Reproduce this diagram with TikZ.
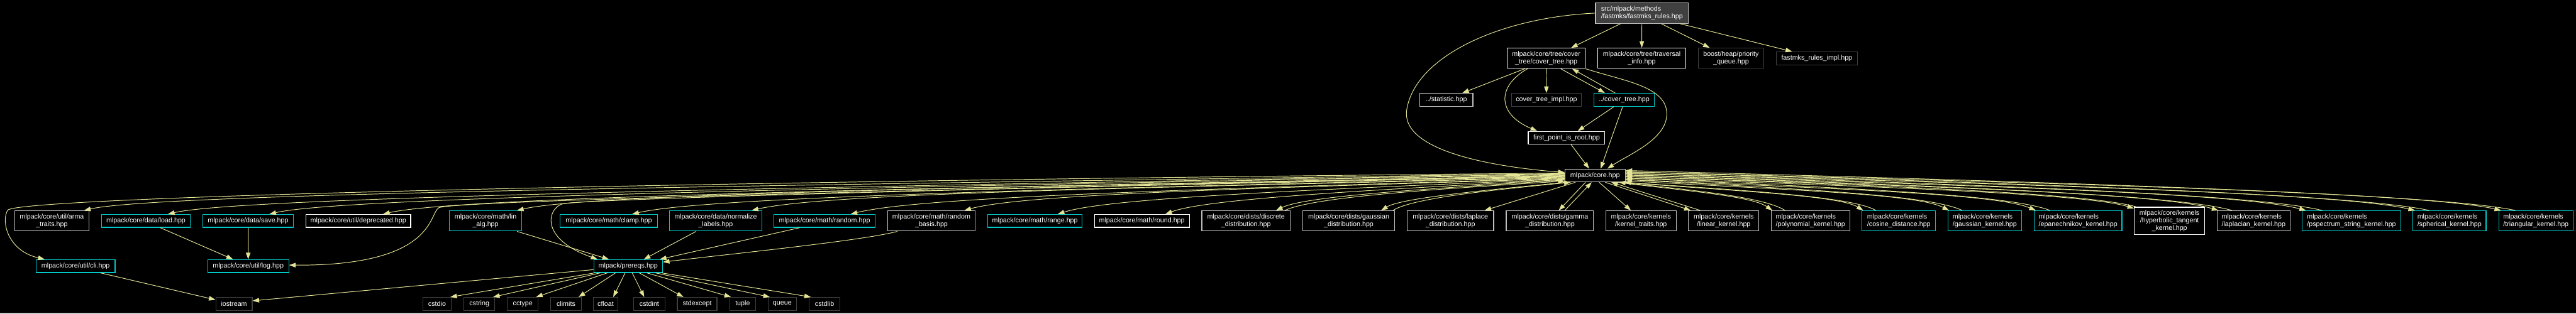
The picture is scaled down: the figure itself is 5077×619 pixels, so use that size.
\documentclass[tikz,border=0pt]{standalone}
\usepackage{fontspec}
\setmainfont{Liberation Sans}
\usetikzlibrary{arrows.meta}
\definecolor{ecol}{RGB}{228,228,150}
\definecolor{ccyan}{RGB}{0,200,200}
\definecolor{clgray}{RGB}{191,191,191}
\definecolor{cdgray}{RGB}{64,64,64}
\definecolor{rootfill}{RGB}{64,64,64}
\begin{document}
\begin{tikzpicture}[x=1pt,y=1pt,
 nd/.style={draw, fill=black, text=white, line width=1.4pt, inner sep=0pt, align=center, font=\fontsize{13.3}{15}\selectfont},
 nw/.style={nd, draw=white},
 nl/.style={nd, draw=clgray},
 nc/.style={nd, draw=ccyan},
 ndk/.style={nd, draw=cdgray},
 one/.style={minimum height=25.5pt},
 two/.style={minimum height=40pt},
 ed/.style={draw=ecol, line width=1.2pt, -{Triangle[length=13pt,width=9pt]}}]
\fill[black] (0,0) rectangle (5077,-619);
\useasboundingbox (0,0) rectangle (5077,-619);
\draw[line width=2pt, color={rgb,255:red,70;green,70;blue,70}] (0,-618) -- (5077,-618);

% top part
\node[nl, fill=rootfill, align=left, minimum width=183pt, minimum height=40.3pt] (root) at (3236,-25.9) {src/mlpack/methods\\/fastmks/fastmks\_rules.hpp};
\node[nw, two, minimum width=154pt] (ct) at (3047.5,-115) {mlpack/core/tree/cover\\\_tree/cover\_tree.hpp};
\node[nw, two, minimum width=173.4pt] (trav) at (3235.7,-115) {mlpack/core/tree/traversal\\\_info.hpp};
\node[ndk, two, minimum width=128.7pt] (prio) at (3411.6,-115) {boost/heap/priority\\\_queue.hpp};
\node[ndk, one, minimum width=159.5pt] (frimpl) at (3580.7,-115.2) {fastmks\_rules\_impl.hpp};
\node[nl, one, minimum width=105pt] (stat) at (2850.4,-197) {../statistic.hpp};
\node[ndk, one, minimum width=138.4pt] (ctimpl) at (3047.8,-197) {cover\_tree\_impl.hpp};
\node[nc, one, minimum width=120pt] (ct2) at (3201,-197) {../cover\_tree.hpp};
\node[nw, one, minimum width=151pt] (fpr) at (3087.5,-272) {first\_point\_is\_root.hpp};
\node[nl, one, minimum width=118.6pt] (core) at (3143.7,-346.3) {mlpack/core.hpp};

% main row
\node[nl, two, minimum width=145.7pt] (arma) at (102.2,-436) {mlpack/core/util/arma\\\_traits.hpp};
\node[nc, one, minimum width=174.6pt] (load) at (287.6,-436) {mlpack/core/data/load.hpp};
\node[nc, one, minimum width=178pt] (save) at (489,-436) {mlpack/core/data/save.hpp};
\node[nw, one, minimum width=206.4pt] (depr) at (706.2,-436) {mlpack/core/util/deprecated.hpp};
\node[nc, two, minimum width=143pt] (linalg) at (957,-436) {mlpack/core/math/lin\\\_alg.hpp};
\node[nc, one, minimum width=191.2pt] (clamp) at (1199.9,-436) {mlpack/core/math/clamp.hpp};
\node[nc, two, minimum width=183pt] (norml) at (1410.5,-436) {mlpack/core/data/normalize\\\_labels.hpp};
\node[nc, one, minimum width=198.6pt] (rand) at (1625,-436) {mlpack/core/math/random.hpp};
\node[nl, two, minimum width=172.6pt] (randb) at (1835.7,-436) {mlpack/core/math/random\\\_basis.hpp};
\node[nc, one, minimum width=186pt] (range) at (2039.8,-436) {mlpack/core/math/range.hpp};
\node[nw, one, minimum width=187pt] (round) at (2250.5,-436) {mlpack/core/math/round.hpp};
\node[nl, two, minimum width=174pt] (disc) at (2455.7,-436) {mlpack/core/dists/discrete\\\_distribution.hpp};
\node[nl, two, minimum width=180.8pt] (gaussd) at (2658.2,-436) {mlpack/core/dists/gaussian\\\_distribution.hpp};
\node[nl, two, minimum width=170.5pt] (lapd) at (2858.5,-436) {mlpack/core/dists/laplace\\\_distribution.hpp};
\node[nl, two, minimum width=172.2pt] (gammad) at (3054.6,-436) {mlpack/core/dists/gamma\\\_distribution.hpp};
\node[nl, two, minimum width=139pt] (ktr) at (3234.2,-436) {mlpack/core/kernels\\/kernel\_traits.hpp};
\node[nl, two, minimum width=138.8pt] (lin) at (3397.2,-436) {mlpack/core/kernels\\/linear\_kernel.hpp};
\node[nl, two, align=left, minimum width=155pt] (poly) at (3568.2,-436) {mlpack/core/kernels\\/polynomial\_kernel.hpp};
\node[nc, two, align=left, minimum width=145.2pt] (cosd) at (3742.4,-436) {mlpack/core/kernels\\/cosine\_distance.hpp};
\node[nc, two, align=left, minimum width=145.4pt] (gaussk) at (3911.7,-436) {mlpack/core/kernels\\/gaussian\_kernel.hpp};
\node[nc, two, align=left, minimum width=173pt] (epan) at (4095.5,-436) {mlpack/core/kernels\\/epanechnikov\_kernel.hpp};
\node[nw, minimum width=138.7pt, minimum height=54pt] (hyper) at (4275.8,-436) {mlpack/core/kernels\\/hyperbolic\_tangent\\\_kernel.hpp};
\node[nl, two, align=left, minimum width=143.5pt] (lapk) at (4441.5,-436) {mlpack/core/kernels\\/laplacian\_kernel.hpp};
\node[nc, two, align=left, minimum width=194.1pt] (pspec) at (4634.5,-436) {mlpack/core/kernels\\/pspectrum\_string\_kernel.hpp};
\node[nc, two, align=left, minimum width=144.5pt] (spher) at (4827.5,-436) {mlpack/core/kernels\\/spherical\_kernel.hpp};
\node[nc, two, align=left, minimum width=146pt] (tri) at (4998,-436) {mlpack/core/kernels\\/triangular\_kernel.hpp};

% second row
\node[nc, one, minimum width=155.6pt] (cli) at (149,-525.2) {mlpack/core/util/cli.hpp};
\node[nc, one, minimum width=159.7pt] (log) at (489.2,-525.2) {mlpack/core/util/log.hpp};
\node[nc, one, minimum width=135.5pt] (prereqs) at (1238,-525.2) {mlpack/prereqs.hpp};

% bottom row
\node[ndk, one, minimum width=71.6pt] (iostream) at (461.2,-599.7) {iostream};
\node[ndk, one, minimum width=56.7pt] (cstdio) at (861.4,-599.7) {cstdio};
\node[ndk, one, minimum width=60.7pt] (cstring) at (944.7,-599.7) {cstring};
\node[ndk, one, minimum width=61pt] (cctype) at (1030.3,-599.7) {cctype};
\node[ndk, one, minimum width=60.2pt] (climits) at (1115.5,-599.7) {climits};
\node[ndk, one, minimum width=47.7pt] (cfloat) at (1193.6,-599.7) {cfloat};
\node[ndk, one, minimum width=61.4pt] (cstdint) at (1279.7,-599.7) {cstdint};
\node[ndk, one, minimum width=78pt] (stdexcept) at (1374,-599.7) {stdexcept};
\node[ndk, one, minimum width=50.6pt] (tuple) at (1463.7,-599.7) {tuple};
\node[ndk, one, minimum width=55.3pt] (queue) at (1541.7,-599.7) {queue};
\node[ndk, one, minimum width=60.4pt] (cstdlib) at (1625.2,-599.7) {cstdlib};

% ---- edges: top
\draw[ed] ([xshift=-42pt]root.south) -- ([xshift=49pt]ct.north);
\draw[ed] (root.south) -- (trav.north);
\draw[ed] ([xshift=38pt]root.south) -- ([xshift=-42pt]prio.north);
\draw[ed] ([xshift=75pt]root.south) -- ([xshift=-48.7pt]frimpl.north);
\draw[ed] (root.west) .. controls (2950,-35) and (2785,-115) .. (2772,-220) .. controls (2765,-300) and (2950,-330) .. ([yshift=6pt]core.west);
\draw[ed] ([xshift=-42.5pt]ct.south) -- ([xshift=31.6pt]stat.north);
\draw[ed] (ct.south) -- (ctimpl.north);
\draw[ed] ([xshift=-37pt]ct.south) .. controls (2950,-170) and (2950,-225) .. ([xshift=-58pt]fpr.north);
\draw[ed] ([xshift=28.5pt]ct.south) -- ([xshift=-38pt]ct2.north);
\draw[ed] ([xshift=-17.5pt]ct2.north) -- ([xshift=51pt]ct.south);
\draw[ed] (ct.south east) .. controls (3200,-160) and (3285,-170) .. (3285,-225) .. controls (3285,-275) and (3210,-305) .. ([xshift=24.3pt]core.north);
\draw[ed] ([xshift=-20pt]ct2.south) -- ([xshift=22pt]fpr.north);
\draw[ed] ([xshift=-3pt]ct2.south) -- ([xshift=11pt]core.north);
\draw[ed] ([xshift=9pt]fpr.south) -- ([xshift=-11.7pt]core.north);

% ---- core to the left
\draw[ed] ([yshift=4.8pt]core.west) .. controls (1000,-362) and (28,-393) .. (15,-415) .. controls (2,-437) and (15,-495) .. ([xshift=-61pt]cli.north);
\draw[ed] ([yshift=3.8pt]core.west) .. controls +(-1460,-22) and +(150,35) .. ([xshift=-10pt]arma.north east);
\draw[ed] ([yshift=2.8pt]core.west) .. controls +(-1377,-24) and +(150,35) .. ([xshift=43.4pt]load.north);
\draw[ed] ([yshift=1.8pt]core.west) .. controls +(-1277,-24) and +(150,35) .. ([xshift=42pt]save.north);
\draw[ed] ([yshift=0.8pt]core.west) .. controls (2000,-372) and (895,-395) .. (865,-410) .. controls (845,-420) and (860,-525) .. ([yshift=2pt]log.east);
\draw[ed] ([yshift=-0.2pt]core.west) .. controls +(-1165,-23) and +(150,35) .. ([xshift=48.8pt]depr.north);
\draw[ed] ([yshift=-1.2pt]core.west) .. controls +(-1033,-21) and +(150,35) .. ([xshift=62pt]linalg.north);
\draw[ed] ([yshift=-2.2pt]core.west) .. controls (2000,-370) and (1150,-393) .. (1110,-402) .. controls (1080,-409) and (1060,-470) .. ([xshift=8pt]prereqs.north west);
\draw[ed] ([yshift=-3.2pt]core.west) .. controls +(-919,-22) and +(150,35) .. ([xshift=46pt]clamp.north);
\draw[ed] ([yshift=-4.2pt]core.west) .. controls +(-802,-20) and +(150,35) .. ([xshift=71pt]norml.north);
\draw[ed] ([yshift=-5.2pt]core.west) .. controls +(-704,-22) and +(141,35) .. ([xshift=51.6pt]rand.north);
\draw[ed] ([yshift=-6.2pt]core.west) .. controls +(-592,-19) and +(118,33) .. ([xshift=65pt]randb.north);
\draw[ed] ([yshift=-7.2pt]core.west) .. controls +(-500,-21) and +(100,32) .. ([xshift=45pt]range.north);
\draw[ed] ([yshift=-8.2pt]core.west) .. controls +(-394,-21) and +(79,30) .. ([xshift=46.5pt]round.north);
\draw[ed] ([yshift=-9.2pt]core.west) .. controls +(-285,-18) and +(57,28) .. ([xshift=59.3pt]disc.north);
\draw[ed] ([xshift=76.3pt]disc.north) .. controls +(57,26) and +(-276,-17) .. ([yshift=-11.2pt]core.west);
\draw[ed] ([xshift=3pt]core.south west) .. controls +(-150,-15) and +(40,25) .. ([xshift=64pt]gaussd.north);
\draw[ed] ([xshift=87pt]gaussd.north) .. controls +(40,25) and +(-150,-15) .. ([xshift=12pt]core.south west);
\draw[ed] ([xshift=-38.7pt]core.south) -- ([xshift=67.5pt]lapd.north);
\draw[ed] ([xshift=-18.7pt]core.south) -- ([xshift=17.5pt]gammad.north);
\draw[ed] ([xshift=29.5pt]gammad.north) -- ([xshift=-6.7pt]core.south);
\draw[ed] ([xshift=8pt]core.south) -- ([xshift=-20pt]ktr.north);
\draw[ed] ([xshift=20pt]core.south) -- ([xshift=5pt]lin.north west);
\draw[ed] ([xshift=24pt]lin.north west) -- ([xshift=32pt]core.south);

% ---- core to the right
\draw[ed] ([xshift=-18pt]core.south east) .. controls +(140,-17) and +(-40,28) .. ([xshift=3pt]poly.north west);
\draw[ed] ([xshift=28pt]poly.north west) .. controls +(-40,26) and +(150,-16) .. ([xshift=-13pt]core.south east);
\draw[ed] ([xshift=-7pt]core.south east) .. controls +(215,-17) and +(-48,30) .. ([xshift=3pt]cosd.north west);
\draw[ed] ([xshift=28pt]cosd.north west) .. controls +(-48,28) and +(230,-16) .. ([xshift=-2pt]core.south east);
\draw[ed] ([yshift=-10.7pt]core.east) .. controls +(320,-18) and +(-64,33) .. ([xshift=3pt]gaussk.north west);
\draw[ed] ([xshift=29pt]gaussk.north west) .. controls +(-64,31) and +(332,-18) .. ([yshift=-8.2pt]core.east);
\draw[ed] ([yshift=-7.7pt]core.east) .. controls +(405,-19) and +(-81,34) .. ([xshift=4pt]epan.north west);
\draw[ed] ([xshift=32pt]epan.north west) .. controls +(-81,32) and +(419,-19) .. ([yshift=-5.2pt]core.east);
\draw[ed] ([yshift=-4.7pt]core.east) .. controls +(502,-18) and +(-100,30) .. ([yshift=-3pt]hyper.north west);
\draw[ed] ([xshift=5pt]hyper.north west) .. controls +(-100,28) and +(504,-18) .. ([yshift=-2.2pt]core.east);
\draw[ed] ([yshift=-1.7pt]core.east) .. controls +(585,-20) and +(-117,35) .. ([xshift=3pt]lapk.north west);
\draw[ed] ([xshift=30pt]lapk.north west) .. controls +(-117,33) and +(598,-21) .. ([yshift=0.8pt]core.east);
\draw[ed] ([yshift=1.3pt]core.east) .. controls +(671,-21) and +(-134,35) .. ([xshift=8pt]pspec.north west);
\draw[ed] ([xshift=40pt]pspec.north west) .. controls +(-134,33) and +(687,-22) .. ([yshift=3.8pt]core.east);
\draw[ed] ([yshift=4.3pt]core.east) .. controls +(778,-22) and +(-150,35) .. ([xshift=5pt]spher.north west);
\draw[ed] ([xshift=33pt]spher.north west) .. controls +(-150,33) and +(792,-23) .. ([yshift=6.8pt]core.east);
\draw[ed] ([yshift=7.3pt]core.east) .. controls +(864,-23) and +(-150,35) .. ([xshift=5pt]tri.north west);
\draw[ed] ([xshift=33pt]tri.north west) .. controls +(-150,33) and +(878,-24) .. ([yshift=9.8pt]core.east);

% ---- lower part
\draw[ed] ([xshift=28.4pt]load.south) -- ([xshift=-30pt]log.north);
\draw[ed] (save.south) -- (log.north);
\draw[ed] ([xshift=62pt]linalg.south) -- ([xshift=-38pt]prereqs.north);
\draw[ed] ([xshift=-38.5pt]norml.south) -- ([xshift=31pt]prereqs.north);
\draw[ed] ([xshift=-49pt]rand.south) -- ([xshift=-6pt]prereqs.north east);
\draw[ed] ([xshift=20pt]randb.south west) .. controls (1700,-475) and (1450,-500) .. ([yshift=8pt]prereqs.east);
\draw[ed] ([xshift=49pt]cli.south) -- ([yshift=8pt]iostream.west);
\draw[ed] ([yshift=-7pt]prereqs.west) -- ([yshift=6pt]iostream.east);
\draw[ed] ([xshift=-66pt]prereqs.south) -- ([xshift=-3pt]cstdio.north east);
\draw[ed] ([xshift=-55pt]prereqs.south) -- ([xshift=-4pt]cstring.north east);
\draw[ed] ([xshift=-41pt]prereqs.south) -- ([xshift=-5pt]cctype.north east);
\draw[ed] ([xshift=-25pt]prereqs.south) -- ([xshift=-6pt]climits.north east);
\draw[ed] ([xshift=-6pt]prereqs.south) -- ([xshift=15pt]cfloat.north);
\draw[ed] ([xshift=8pt]prereqs.south) -- ([xshift=-10pt]cstdint.north);
\draw[ed] ([xshift=22pt]prereqs.south) -- ([xshift=-27pt]stdexcept.north);
\draw[ed] ([xshift=37pt]prereqs.south) -- ([xshift=3pt]tuple.north west);
\draw[ed] ([xshift=54pt]prereqs.south) -- ([xshift=4pt]queue.north west);
\draw[ed] ([xshift=66pt]prereqs.south) -- ([xshift=4pt]cstdlib.north west);
\end{tikzpicture}
\end{document}
